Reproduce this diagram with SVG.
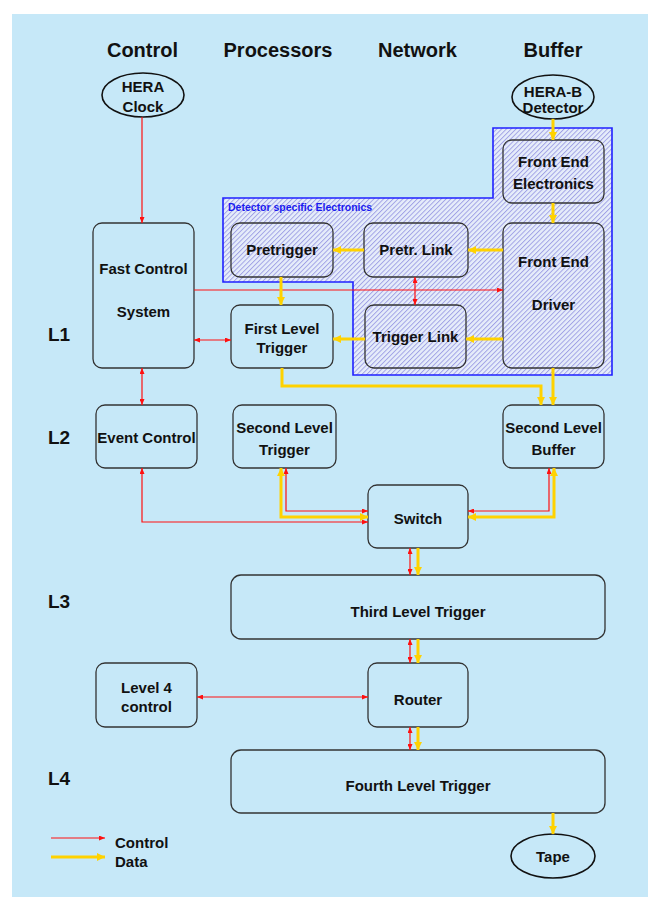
<svg xmlns="http://www.w3.org/2000/svg" width="648" height="897" viewBox="0 0 648 897">
  <defs>
    <pattern id="hatch" width="3.4" height="3.4" patternUnits="userSpaceOnUse" patternTransform="rotate(45)">
      <rect width="3.4" height="3.4" fill="#E6EDFA"/>
      <line x1="0.5" y1="0" x2="0.5" y2="3.4" stroke="#9C9CE4" stroke-width="0.9"/>
    </pattern>
    <marker id="arrRed" viewBox="0 0 6 5" refX="6" refY="2.5" markerWidth="6" markerHeight="5" markerUnits="userSpaceOnUse" orient="auto-start-reverse">
      <path d="M0,0 L6,2.5 L0,5 z" fill="#FF1010"/>
    </marker>
    <marker id="arrYel" viewBox="0 0 8 8" refX="8" refY="4" markerWidth="8" markerHeight="8" markerUnits="userSpaceOnUse" orient="auto-start-reverse">
      <path d="M0,0 L8,4 L0,8 z" fill="#FFD200"/>
    </marker>
  </defs>
  <style>
    text { font-family: "Liberation Sans", Arial, sans-serif; font-weight: bold; fill: #111; text-anchor: middle; }
    .hdr { font-size: 20px; }
    .lvl { font-size: 19px; text-anchor: start; }
    .lbl { font-size: 15px; }
    .leg { font-size: 15px; text-anchor: start; }
    .region-label { font-size: 10.5px; fill: #1A1AF0; text-anchor: start; }
    .box { fill: #C6E8F8; stroke: #333; stroke-width: 1.3; }
    .hbox { fill: none; stroke: #333; stroke-width: 1.3; }
    .oval { fill: #C6E8F8; stroke: #111; stroke-width: 1.6; }
    .ctrl { fill: none; stroke: #FF1010; stroke-width: 1.2; marker-end: url(#arrRed); }
    .ctrl2 { fill: none; stroke: #FF1010; stroke-width: 1.2; marker-start: url(#arrRed); marker-end: url(#arrRed); }
    .data { fill: none; stroke: #FFD200; stroke-width: 3; marker-end: url(#arrYel); }
    .data2 { fill: none; stroke: #FFD200; stroke-width: 3; marker-start: url(#arrYel); marker-end: url(#arrYel); }
  </style>

  <!-- page background -->
  <rect x="12" y="14" width="636" height="883" fill="#C6E8F8"/>

  <!-- column headings -->
  <text class="hdr" x="142.5" y="57">Control</text>
  <text class="hdr" x="278" y="57">Processors</text>
  <text class="hdr" x="417.5" y="57">Network</text>
  <text class="hdr" x="553" y="57">Buffer</text>

  <!-- trigger levels -->
  <text class="lvl" x="48" y="341">L1</text>
  <text class="lvl" x="48" y="444">L2</text>
  <text class="lvl" x="48" y="608">L3</text>
  <text class="lvl" x="48" y="785">L4</text>

  <!-- detector specific electronics area -->
  <g id="detector-electronics">
    <polygon points="223,198 493,198 493,128 612,128 612,375 353,375 353,282 223,282" fill="url(#hatch)" stroke="#2020FF" stroke-width="1.6"/>
    <text class="region-label" x="228" y="211">Detector specific Electronics</text>
  </g>

  <!-- nodes -->
  <g id="hera-clock">
    <ellipse class="oval" cx="143" cy="95" rx="41" ry="22"/>
    <text class="lbl" x="143" y="92">HERA</text>
    <text class="lbl" x="143" y="112">Clock</text>
  </g>
  <g id="hera-b-detector">
    <ellipse class="oval" cx="553" cy="97" rx="41" ry="22"/>
    <text class="lbl" x="553" y="97">HERA-B</text>
    <text class="lbl" x="553" y="113">Detector</text>
  </g>
  <g id="fast-control">
    <rect class="box" x="93" y="223" width="101" height="145" rx="9"/>
    <text class="lbl" x="143.5" y="274">Fast Control</text>
    <text class="lbl" x="143.5" y="317">System</text>
  </g>
  <g id="front-end-electronics">
    <rect class="hbox" x="503" y="140" width="101" height="63" rx="9"/>
    <text class="lbl" x="553.5" y="167">Front End</text>
    <text class="lbl" x="553.5" y="189">Electronics</text>
  </g>
  <g id="front-end-driver">
    <rect class="hbox" x="503" y="223" width="101" height="145" rx="9"/>
    <text class="lbl" x="553.5" y="267">Front End</text>
    <text class="lbl" x="553.5" y="310">Driver</text>
  </g>
  <g id="pretrigger">
    <rect class="hbox" x="231" y="223" width="102" height="54" rx="9"/>
    <text class="lbl" x="282" y="255">Pretrigger</text>
  </g>
  <g id="pretr-link">
    <rect class="hbox" x="364" y="223" width="104" height="54" rx="9"/>
    <text class="lbl" x="416" y="255">Pretr. Link</text>
  </g>
  <g id="trigger-link">
    <rect class="hbox" x="365" y="305" width="101" height="63" rx="9"/>
    <text class="lbl" x="415.5" y="342">Trigger Link</text>
  </g>
  <g id="first-level-trigger">
    <rect class="box" x="231" y="305" width="102" height="63" rx="9"/>
    <text class="lbl" x="282" y="334">First Level</text>
    <text class="lbl" x="282" y="353">Trigger</text>
  </g>
  <g id="event-control">
    <rect class="box" x="96" y="405" width="101" height="63" rx="9"/>
    <text class="lbl" x="146.5" y="443">Event Control</text>
  </g>
  <g id="second-level-trigger">
    <rect class="box" x="233" y="405" width="103" height="63" rx="9"/>
    <text class="lbl" x="284.5" y="433">Second Level</text>
    <text class="lbl" x="284.5" y="455">Trigger</text>
  </g>
  <g id="second-level-buffer">
    <rect class="box" x="503" y="405" width="101" height="63" rx="9"/>
    <text class="lbl" x="553.5" y="433">Second Level</text>
    <text class="lbl" x="553.5" y="455">Buffer</text>
  </g>
  <g id="switch">
    <rect class="box" x="368" y="485" width="100" height="63" rx="9"/>
    <text class="lbl" x="418" y="524">Switch</text>
  </g>
  <g id="third-level-trigger">
    <rect class="box" x="231" y="575" width="374" height="64" rx="10"/>
    <text class="lbl" x="418" y="617">Third Level Trigger</text>
  </g>
  <g id="level4-control">
    <rect class="box" x="96" y="663" width="101" height="64" rx="9"/>
    <text class="lbl" x="146.5" y="693">Level 4</text>
    <text class="lbl" x="146.5" y="712">control</text>
  </g>
  <g id="router">
    <rect class="box" x="368" y="663" width="100" height="64" rx="9"/>
    <text class="lbl" x="418" y="705">Router</text>
  </g>
  <g id="fourth-level-trigger">
    <rect class="box" x="231" y="750" width="374" height="63" rx="10"/>
    <text class="lbl" x="418" y="791">Fourth Level Trigger</text>
  </g>
  <g id="tape">
    <ellipse class="oval" cx="553" cy="856" rx="42" ry="22"/>
    <text class="lbl" x="553" y="862">Tape</text>
  </g>

  <!-- connectors -->
  <g id="connectors">
    <!-- control paths -->
    <path class="ctrl" d="M142,117 V223"/>
    <path class="ctrl" d="M194,290 H503"/>
    <path class="ctrl2" d="M194,340 H231"/>
    <path class="ctrl2" d="M415,277 V305"/>
    <path class="ctrl2" d="M142,368 V405"/>
    <path class="ctrl2" d="M142,468 V522 H368"/>
    <path class="ctrl2" d="M286,468 V511 H368"/>
    <path class="ctrl2" d="M549,468 V511 H468"/>
    <path class="ctrl2" d="M410,548 V575"/>
    <path class="ctrl2" d="M410,639 V663"/>
    <path class="ctrl2" d="M197,697 H368"/>
    <path class="ctrl2" d="M410,727 V750"/>
    <!-- data paths -->
    <path class="data" d="M553,119 V140"/>
    <path class="data" d="M553,203 V223"/>
    <path class="data" d="M503,250 H468"/>
    <path class="data" d="M364,250 H333"/>
    <path class="data" d="M281,277 V305"/>
    <path class="data" d="M503,339 H466"/>
    <path class="data" d="M365,339 H333"/>
    <path class="data" d="M282,368 V386 H541 V405"/>
    <path class="data" d="M553,368 V405"/>
    <path class="data2" d="M281,468 V517 H368"/>
    <path class="data2" d="M554,468 V517 H468"/>
    <path class="data" d="M418,548 V575"/>
    <path class="data" d="M418,639 V663"/>
    <path class="data" d="M418,727 V750"/>
    <path class="data" d="M553,813 V834"/>
  </g>

  <!-- legend -->
  <g id="legend">
    <path class="ctrl" d="M51,838 H105"/>
    <path class="data" d="M51,857 H105"/>
    <text class="leg" x="115" y="848">Control</text>
    <text class="leg" x="115" y="867">Data</text>
  </g>
</svg>
